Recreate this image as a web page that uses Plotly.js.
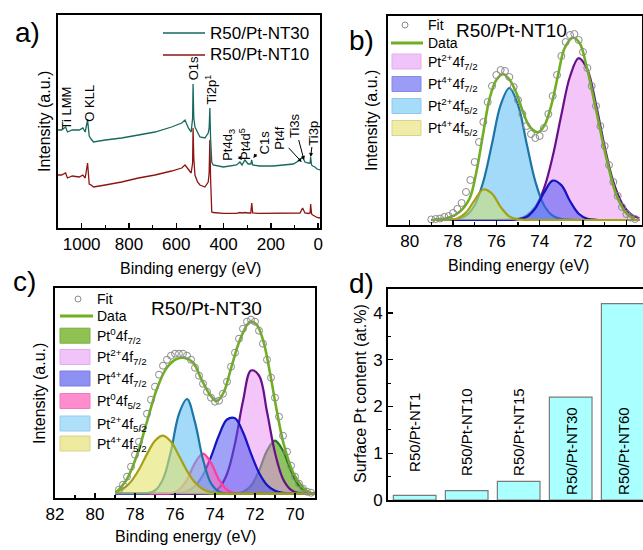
<!DOCTYPE html>
<html><head><meta charset="utf-8">
<script src="https://cdn.plot.ly/plotly-3.0.1.min.js"></script>
<style>body{margin:0;background:#fff}#chart{width:643px;height:550px}</style>
</head><body><div id="chart"></div>
<script>
// ---------- Panel a: XPS survey ----------
const surveyEV = [1100,1085,1068,1060,1040,1010,995,985,975,968,960,950,900,831,760,690,620,577,563,549,537,531,529,526,521,510,500,479,470,465,461,458,455,450,444,420,401,345,331,322,317,310,296,285,281,277,250,190,105,77,66,56,42,34,32,28,23,14,5,-8];
const surveyNT30 = [98,98,101,96,98,98,100,96,108,92,89,86,88,90,93,96,101,105,108,100,96,110,144,110,101,95,91,90,93,95,100,120,90,66,63,62,61,63,66,63,65,68,64,64,68,63,62,62,64,68,71,66,65,65,71,63,62,61,59,58];
const surveyNT10 = [53,53,55,50,52,51,53,50,65,44,43,41,43,46,50,53,57,60,63,58,55,65,100,70,53,46,43,41,44,46,55,88,50,16,15.5,15,14.7,14.7,15.5,15,15.5,15.5,15,15,25,15,14.7,14.7,14.5,15,20,15,14.5,15,24,14,13,11.3,10.5,10];
const surveyNames = ['R50/Pt-NT30','R50/Pt-NT10'];

// ---------- Panel b: Pt 4f, R50/Pt-NT10 ----------
const nt10EV = [79.0,78.8,78.6,78.4,78.2,78.0,77.8,77.6,77.4,77.2,77.0,76.8,76.6,76.4,76.2,76.0,75.8,75.6,75.4,75.2,75.0,74.8,74.6,74.4,74.2,74.0,73.8,73.6,73.4,73.2,73.0,72.8,72.6,72.4,72.2,72.0,71.8,71.6,71.4,71.2,71.0,70.8,70.6,70.4,70.2,70.0,69.8,69.6];
const nt10Counts = [0.5,1,1.5,3,4,7,11,17,28,40,58,78,98,118,134,145,150,149,143,133,120,106,94,86,82,84,92,106,124,145,164,178,185,186,180,168,152,134,114,94,74,55,38,24,13,6,2.5,1];
const nt10EnvEV = [78.9,78.3,77.69,77.23,76.92,76.62,76.31,76.0,75.69,75.38,75.07,74.77,74.46,74.08,73.77,73.46,73.15,72.85,72.46,72.15,71.85,71.38,70.92,70.46,70.0,69.62];
const nt10Env = [0.5,1.7,8.3,21.7,48.3,85,121.7,140,145.7,140,126.7,108.3,93.3,87.7,95,115,145,171.7,182.3,176.7,155,108.3,61.7,25,6.7,1];
const nt10CompEV = [79.0,78.6,78.2,77.8,77.4,77.0,76.6,76.2,75.8,75.4,75.0,74.6,74.2,73.8,73.4,73.0,72.6,72.2,71.8,71.4,71.0,70.6,70.2,69.8,69.4];
const nt10Pt2_72 = [0,0,0,0,0,0,0,0,0.05,0.3,1.2,4.4,13.0,31.6,63.5,105.0,143.5,161.8,150.5,115.6,73.3,38.3,16.6,5.9,1.7];
const nt10Pt4_72 = [0,0,0,0,0,0,0,0,0,0.05,0.5,3.1,11.7,27.3,39.4,34.9,19.0,6.3,1.3,0.2,0,0,0,0,0];
const nt10Pt2_52 = [0,0,0.2,1.0,4.3,14.8,38.5,76.3,115.1,132,115.1,76.3,38.5,14.8,4.3,1.0,0.2,0,0,0,0,0,0,0,0];
const nt10Pt4_52 = [0,0,0.2,1.5,7.4,19.9,30.5,26.4,13.0,3.6,0.6,0.05,0,0,0,0,0,0,0,0,0,0,0,0,0];

// ---------- Panel c: Pt 4f, R50/Pt-NT30 ----------
const nt30EV = [78.8,78.6,78.4,78.2,78.0,77.8,77.6,77.4,77.2,77.0,76.8,76.6,76.4,76.2,76.0,75.8,75.6,75.4,75.2,75.0,74.8,74.6,74.4,74.2,74.0,73.8,73.6,73.4,73.2,73.0,72.8,72.6,72.4,72.2,72.0,71.8,71.6,71.4,71.2,71.0,70.8,70.6,70.4,70.2,70.0,69.8,69.6,69.4,69.2];
const nt30Counts = [4,9,17,27,39,52,66,80,94,107,119,128,134,138,140,140,140,138,134,126,118,110,102,96,92,93,100,112,127,141,155,165,172,174,172,163,150,134,116,96,77,58,42,28,17,10,5,2,1];
const nt30EnvEV = [78.95,78.42,77.92,77.42,76.92,76.42,75.92,75.5,75.08,74.67,74.25,73.92,73.58,73.17,72.75,72.25,71.92,71.58,71.25,70.92,70.58,70.08,69.58,69.25];
const nt30Env = [1,14,37.4,70.7,104,125.7,134.7,135.7,130.7,114,99,92.4,100.7,127.4,154,172,169,152.4,120.7,84,50.7,20.7,5.7,0.5];
const nt30CompEV = [79.0,78.6,78.2,77.8,77.4,77.0,76.6,76.2,75.8,75.4,75.0,74.6,74.2,73.8,73.4,73.0,72.6,72.2,71.8,71.4,71.0,70.6,70.2,69.8,69.4,69.0];
const nt30Pt0_72 = [0,0,0,0,0,0,0,0,0,0,0,0,0,0,0,0.3,1.8,7.9,22.8,42.9,53,42.9,22.8,7.9,1.8,0.3];
const nt30Pt2_72 = [0,0,0,0,0,0,0,0,0,0,0,0.2,1.1,5.6,19.7,50.3,92.6,123.2,118.2,81.9,41.0,14.8,3.9,0.7,0.1,0];
const nt30Pt4_72 = [0,0,0,0,0,0,0,0.1,0.6,2.5,7.6,18.7,36.9,58.5,74.2,75.5,61.5,40.1,21.0,8.8,2.9,0.8,0.2,0,0,0];
const nt30Pt0_52 = [0,0,0,0,0,0,0,0.6,3.8,14.0,30.8,40,30.8,14.0,3.8,0.6,0,0,0,0,0,0,0,0,0,0];
const nt30Pt2_52 = [0,0,0,0,0.4,3.2,14.6,42.9,79.9,94.7,71.3,34.2,10.4,2.0,0.2,0,0,0,0,0,0,0,0,0,0,0];
const nt30Pt4_52 = [1.6,4.9,12.1,24.2,39.6,53.0,58,51.9,38.0,22.8,11.1,4.5,1.5,0.4,0,0,0,0,0,0,0,0,0,0,0,0];

// ---------- Panel d: surface Pt content ----------
const samples = ['R50/Pt-NT1','R50/Pt-NT10','R50/Pt-NT15','R50/Pt-NT30','R50/Pt-NT60'];
const ptContent = [0.1, 0.2, 0.4, 2.2, 4.2];

// ---------- layout helpers ----------
const W = 643, H = 550;
const px = v => v / W, py = v => 1 - v / H;
const FONT = 'Liberation Sans, Arial, Helvetica, sans-serif';

const C = {
  teal:'#17695f', red:'#8e1414', green:'#70b020', grey:'#8a8a8a',
  pinkF:'rgba(232,140,242,0.5)', pinkL:'#67108a',
  blueF:'rgba(80,86,240,0.55)', blueL:'#1414c4',
  lblueF:'rgba(88,188,245,0.55)', lblueL:'#1b76a6',
  yelF:'rgba(200,222,120,0.62)', yelL:'#a7a012',
  yelF2:'rgba(228,226,105,0.6)',
  greenF:'rgba(110,175,45,0.75)', greenL:'#1f7a1f',
  hpinkF:'rgba(255,100,190,0.55)', hpinkL:'#ff3d9e'
};

function comp(x, y, xa, ya, fill, line) {
  return {x, y, xaxis:xa, yaxis:ya, type:'scatter', mode:'lines', fill:'tozeroy',
    fillcolor:fill, line:{color:line, width:2.2, shape:'spline', smoothing:1}, showlegend:false, hoverinfo:'skip'};
}

const traces = [
  {x:surveyEV, y:surveyNT10, xaxis:'x', yaxis:'y', mode:'lines', line:{color:C.red, width:1.3}, showlegend:false},
  {x:surveyEV, y:surveyNT30, xaxis:'x', yaxis:'y', mode:'lines', line:{color:C.teal, width:1.3}, showlegend:false},

  comp(nt10CompEV, nt10Pt2_72, 'x2','y2', C.pinkF, C.pinkL),
  comp(nt10CompEV, nt10Pt2_52, 'x2','y2', C.lblueF, C.lblueL),
  comp(nt10CompEV, nt10Pt4_72, 'x2','y2', C.blueF, C.blueL),
  comp(nt10CompEV, nt10Pt4_52, 'x2','y2', C.yelF, C.yelL),
  {x:nt10EnvEV, y:nt10Env, xaxis:'x2', yaxis:'y2', mode:'lines', line:{color:C.green, width:2.6, shape:'spline'}, showlegend:false},
  {x:nt10EV, y:nt10Counts, xaxis:'x2', yaxis:'y2', mode:'markers', marker:{symbol:'circle-open', size:7, color:C.grey, line:{width:1}}, showlegend:false},

  comp(nt30CompEV, nt30Pt0_72, 'x3','y3', C.greenF, C.greenL),
  comp(nt30CompEV, nt30Pt2_72, 'x3','y3', C.pinkF, C.pinkL),
  comp(nt30CompEV, nt30Pt4_72, 'x3','y3', C.blueF, C.blueL),
  comp(nt30CompEV, nt30Pt0_52, 'x3','y3', C.hpinkF, C.hpinkL),
  comp(nt30CompEV, nt30Pt2_52, 'x3','y3', C.lblueF, C.lblueL),
  comp(nt30CompEV, nt30Pt4_52, 'x3','y3', C.yelF2, C.yelL),
  {x:nt30EnvEV, y:nt30Env, xaxis:'x3', yaxis:'y3', mode:'lines', line:{color:C.green, width:2.6, shape:'spline'}, showlegend:false},
  {x:nt30EV, y:nt30Counts, xaxis:'x3', yaxis:'y3', mode:'markers', marker:{symbol:'circle-open', size:7, color:C.grey, line:{width:1}}, showlegend:false},

  {x:samples, y:ptContent, xaxis:'x4', yaxis:'y4', type:'bar', width:0.82,
   marker:{color:'#aaffff', line:{color:'#7a7a7a', width:1.2}}, showlegend:false}
];

const tickFont = {family:FONT, size:17, color:'#000'};
function xAx(domain, range, dtick, minor, extra) {
  return Object.assign({domain, range, dtick, tick0:0, showline:true, linecolor:'#000', linewidth:2,
    mirror:true, ticks:'inside', ticklen:5, tickwidth:1.5, tickcolor:'#000', showgrid:false, zeroline:false,
    tickfont:tickFont, minor:{dtick:minor, ticks:'inside', ticklen:3, tickwidth:1.2, tickcolor:'#000', showgrid:false}}, extra||{});
}
function yAxNone(domain, range) {
  return {domain, range, showline:true, linecolor:'#000', linewidth:2, mirror:true, ticks:'',
    showticklabels:false, showgrid:false, zeroline:false, fixedrange:true};
}

const layout = {
  width:W, height:H, margin:{l:0,r:0,t:0,b:0}, paper_bgcolor:'#fff', plot_bgcolor:'rgba(0,0,0,0)',
  font:{family:FONT, color:'#000'}, showlegend:false,
  xaxis: xAx([px(58), px(320)], [1100, -7.6], 200, 100, {anchor:'y'}),
  yaxis: yAxNone([py(228), py(15)], [0, 213]),
  xaxis2: xAx([px(388), px(641.5)], [81.0, 69.3], 2, 1, {anchor:'y2'}),
  yaxis2: Object.assign(yAxNone([py(225), py(16)], [-5, 204]), {anchor:'x2'}),
  xaxis3: xAx([px(55), px(315)], [82, 69], 2, 1, {anchor:'y3'}),
  yaxis3: Object.assign(yAxNone([py(498), py(288)], [-4.3, 205.7]), {anchor:'x3'}),
  xaxis4: {domain:[px(388), 1], range:[-0.513, 4.39], type:'category', anchor:'y4', showline:true, linecolor:'#000',
    linewidth:2, mirror:true, ticks:'', showticklabels:false, showgrid:false, zeroline:false},
  yaxis4: {domain:[py(500), py(289)], range:[0, 4.513], anchor:'x4', dtick:1, tick0:0, showline:true, linecolor:'#000',
    linewidth:2, mirror:false, ticks:'inside', ticklen:5, tickwidth:1.5, tickcolor:'#000', showgrid:false, zeroline:false,
    tickfont:tickFont, minor:{dtick:0.5, ticks:'inside', ticklen:3, tickwidth:1.2, tickcolor:'#000', showgrid:false}},
  shapes:[], annotations:[]
};

const A = layout.annotations, S = layout.shapes;
function txt(x, y, text, size, opts) {
  A.push(Object.assign({xref:'paper', yref:'paper', x:px(x), y:py(y), text, showarrow:false,
    font:{family:FONT, size, color:'#000'}, xanchor:'center', yanchor:'middle'}, opts||{}));
}
// panel letters
txt(27, 32, 'a)', 28); txt(361, 40, 'b)', 28); txt(24, 281, 'c)', 28); txt(361, 283, 'd)', 28);
// axis titles
txt(190, 268, 'Binding energy (eV)', 16);
txt(518, 265, 'Binding energy (eV)', 16);
txt(185, 536, 'Binding energy (eV)', 16);
txt(45, 122, 'Intensity (a.u.)', 16, {textangle:-90});
txt(372, 121, 'Intensity (a.u.)', 16, {textangle:-90});
txt(39, 394, 'Intensity (a.u.)', 16, {textangle:-90});
txt(360, 394, 'Surface Pt content (at.%)', 16, {textangle:-90});
// panel titles
txt(511, 30, 'R50/Pt-NT10', 19);
txt(206, 308, 'R50/Pt-NT30', 19);

// panel a legend
[[33, C.teal, surveyNames[0]], [55, C.red, surveyNames[1]]].forEach(([yy, col, name]) => {
  S.push({type:'line', xref:'paper', yref:'paper', x0:px(163), x1:px(205), y0:py(yy), y1:py(yy), line:{color:col, width:1.6}});
  txt(208, yy, name, 17, {xanchor:'left'});
});

// panel a peak labels
function peakLabel(x, y, text) {
  A.push({xref:'x', yref:'y', x, y, text, textangle:-90, showarrow:false, xanchor:'center', yanchor:'bottom',
    font:{family:FONT, size:13, color:'#000'}});
}
function peakArrow(x, y, text, ax, ay) {
  A.push({xref:'x', yref:'y', x, y, text, textangle:-90, showarrow:true, ax, ay, xanchor:'center', yanchor:'middle',
    arrowhead:2, arrowsize:0.8, arrowwidth:1, arrowcolor:'#000', standoff:0, font:{family:FONT, size:13, color:'#000'}});
}
peakLabel(1062, 97, 'Ti LMM');
peakLabel(968, 104, 'O KLL');
peakLabel(524, 146, 'O1s');
peakLabel(455, 121, 'Ti2p<sup>1</sup>');
peakArrow(323, 68, 'Pt4d<sub>3</sub>', -13, -15);
peakArrow(309.5, 66, 'Pt4d<sup>5</sup>', 0, -18);
peakArrow(274, 70, 'C1s', 12, -16);
peakArrow(70, 66, 'Pt4f', -22, -24);
peakArrow(60, 68, 'Ti3s', -9, -34);
peakArrow(32, 71, 'Ti3p', 3, -24);

// XPS legends (b, c)
function fitLegend(cx, cy, lx0, lx1, ly, tx) {
  S.push({type:'circle', xref:'paper', yref:'paper', x0:px(cx-3), x1:px(cx+3), y0:py(cy+3), y1:py(cy-3), line:{color:C.grey, width:1}});
  txt(tx, cy, 'Fit', 14, {xanchor:'left'});
  S.push({type:'line', xref:'paper', yref:'paper', x0:px(lx0), x1:px(lx1), y0:py(ly), y1:py(ly), line:{color:C.green, width:3}});
  txt(tx, ly, 'Data', 14, {xanchor:'left'});
}
function boxLegend(x0, x1, yc, fill, line, text, tx) {
  S.push({type:'rect', xref:'paper', yref:'paper', x0:px(x0), x1:px(x1), y0:py(yc+7.5), y1:py(yc-7.5), fillcolor:fill, line:{color:line, width:1}});
  txt(tx, yc, text, 14, {xanchor:'left'});
}
fitLegend(405, 25, 391, 423, 43, 426);
boxLegend(392, 421, 61.5, '#f0c4f8', '#e2adf0', 'Pt<sup>2+</sup>4f<sub>7/2</sub>', 426);
boxLegend(392, 421, 84, '#9a9cf6', '#8888e6', 'Pt<sup>4+</sup>4f<sub>7/2</sub>', 426);
boxLegend(392, 421, 106, '#a4dcfa', '#90c8ee', 'Pt<sup>2+</sup>4f<sub>5/2</sub>', 426);
boxLegend(392, 421, 128, '#efeca6', '#d6d48e', 'Pt<sup>4+</sup>4f<sub>5/2</sub>', 426);

fitLegend(78, 299, 60, 93, 316, 95);
boxLegend(60, 90, 335.7, '#8fc253', '#7aae40', 'Pt<sup>0</sup>4f<sub>7/2</sub>', 95);
boxLegend(60, 90, 357, '#f0c4f8', '#e2adf0', 'Pt<sup>2+</sup>4f<sub>7/2</sub>', 95);
boxLegend(60, 90, 378.5, '#8e90f4', '#7a7ce4', 'Pt<sup>4+</sup>4f<sub>7/2</sub>', 95);
boxLegend(60, 90, 401, '#ff8ccc', '#f078bc', 'Pt<sup>0</sup>4f<sub>5/2</sub>', 95);
boxLegend(60, 90, 423.5, '#aee0fa', '#98cdee', 'Pt<sup>2+</sup>4f<sub>5/2</sub>', 95);
boxLegend(60, 90, 443.5, '#eeeba0', '#d6d48a', 'Pt<sup>4+</sup>4f<sub>5/2</sub>', 95);

// bar labels (panel d)
samples.forEach((s, i) => {
  const tall = ptContent[i] >= 1;
  A.push({xref:'x4', yref:'y4', x:s, y: tall ? 0.06 : 1.45, text:s, textangle:-90, showarrow:false,
    xanchor:'center', yanchor: tall ? 'bottom' : 'middle', font:{family:FONT, size:15, color:'#000'}});
});

Plotly.newPlot('chart', traces, layout, {staticPlot:true, displayModeBar:false});
</script></body></html>
